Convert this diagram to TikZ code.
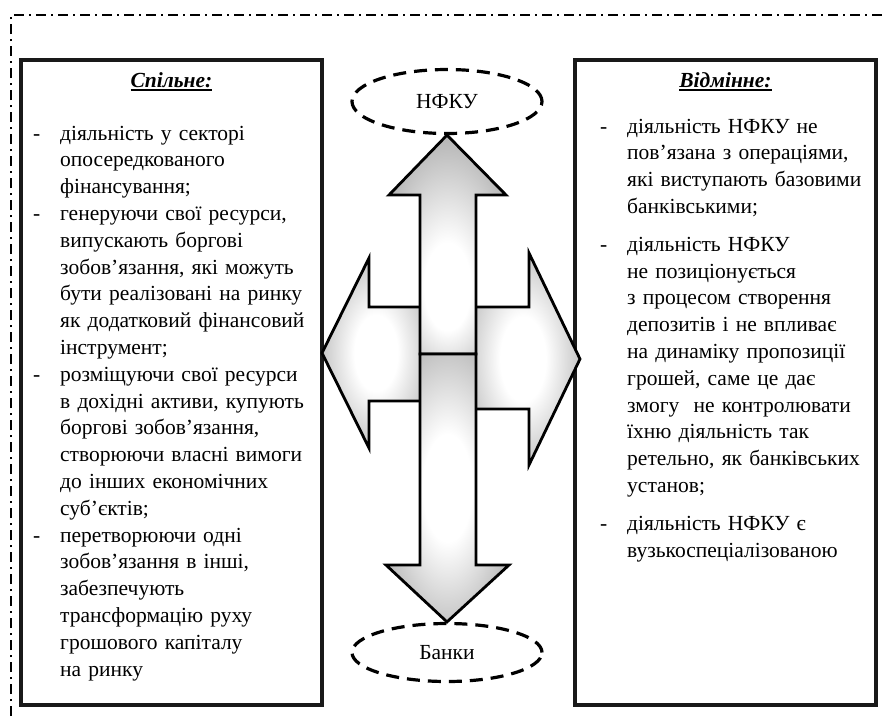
\documentclass[tikz,border=0pt]{standalone}
\usepackage{fontspec}
\setmainfont{Liberation Serif}
\usepackage{tikz}
\usetikzlibrary{shapes.geometric,positioning}
\definecolor{arrowgray}{RGB}{150,150,150}
\definecolor{arrowdark}{RGB}{115,115,115}
\definecolor{boxblack}{RGB}{25,25,25}
\pgfdeclareradialshading{arrowglow}{\pgfpoint{0bp}{0bp}}{color(0bp)=(white); color(10bp)=(white); color(38bp)=(arrowgray); color(50bp)=(arrowdark)}
\pgfdeclareradialshading{upglow}{\pgfpoint{0bp}{-12bp}}{color(0bp)=(white); color(10bp)=(white); color(38bp)=(arrowgray); color(50bp)=(arrowdark)}
\tikzstyle{oval}=[draw,ellipse,line width=3.2pt,dash pattern=on 13pt off 8pt,minimum width=190pt,inner sep=0pt,font=\fontsize{21.5}{26}\selectfont]
\newcommand{\itemdash}{\leavevmode\llap{\makebox[27pt][l]{-}}}
\newcommand{\thickunder}[1]{\setbox0=\hbox{#1}\rlap{\rule[-4pt]{\wd0}{2pt}}\box0}

\begin{document}
\begin{tikzpicture}[
  x=1pt, y=-1pt,
  infobox/.style={
    draw=boxblack,
    line width=3.6pt,
    minimum width=301pt,
    minimum height=645pt,
    inner sep=0pt
    },
  heading/.style={font=\fontsize{21.5}{26}\selectfont\bfseries\itshape, inner sep=0pt, anchor=base},
  listtext/.style={
    font=\fontsize{21.5}{26.8}\selectfont,
    text width=270pt,
    align=left,
    inner sep=0pt,
    anchor=base west
    },
  bigarrow/.style={draw=black, line width=2.8pt, line join=miter, miter limit=20, shading=arrowglow},
  frameline/.style={line width=1.2pt, dash pattern=on 10pt off 5pt on 2pt off 5pt}
]
\useasboundingbox (0,0) rectangle (884,716);
\draw[frameline] (11,716) -- (11,15) -- (884,15);

% boxes
\node[infobox] (common) at (171.5,382.5) {};
\node[infobox] (differ) at (725.5,382.5) {};
\node[heading] (commonhead) at ([yshift=-29pt]common.north) {\thickunder{Спільне:}};
\node[heading] (differhead) at ([yshift=-29pt]differ.north) {\thickunder{Відмінне:}};

% ovals
\node[oval, minimum height=64pt] (nfku) at (447,101.5) {НФКУ};
\node[oval, minimum height=58pt] (banks) at (447,652.5) {Банки};

% arrows
\draw[bigarrow] (430,307) -- (369,307) -- (369,258) -- (322,353) -- (369,448) -- (369,401) -- (430,401) -- cycle;
\draw[bigarrow] (466,307) -- (529,307) -- (529,253) -- (580,359) -- (529,465) -- (529,409) -- (466,409) -- cycle;
\draw[bigarrow, shading=upglow] (420,354) -- (420,195) -- (389,195) -- (nfku.south) -- (506,195) -- (476,195) -- (476,354) -- cycle;
\draw[bigarrow] (420,354) -- (476,354) -- (476,565) -- (509,565) -- (banks.north) -- (386,565) -- (420,565) -- cycle;

% lists
\node[listtext] (commontext) at (60,140) {%
\itemdash діяльність у секторі\\
опосередкованого\\
фінансування;\\
\itemdash генеруючи свої ресурси,\\
випускають боргові\\
зобов’язання, які можуть\\
бути реалізовані на ринку\\
як додатковий фінансовий\\
інструмент;\\
\itemdash розміщуючи свої ресурси\\
в дохідні активи, купують\\
боргові зобов’язання,\\
створюючи власні вимоги\\
до інших економічних\\
суб’єктів;\\
\itemdash перетворюючи одні\\
зобов’язання в інші,\\
забезпечують\\
трансформацію руху\\
грошового капіталу\\
на ринку};
\node[listtext] (differtext) at (627,133) {%
\itemdash діяльність НФКУ не\\
пов’язана з операціями,\\
які виступають базовими\\
банківськими;\\[11pt]
\itemdash діяльність НФКУ\\
не позиціонується\\
з процесом створення\\
депозитів і не впливає\\
на динаміку пропозиції\\
грошей, саме це дає\\
змогу\ \ не контролювати\\
їхню діяльність так\\
ретельно, як банківських\\
установ;\\[11pt]
\itemdash діяльність НФКУ є\\
вузькоспеціалізованою};

\end{tikzpicture}
\end{document}
